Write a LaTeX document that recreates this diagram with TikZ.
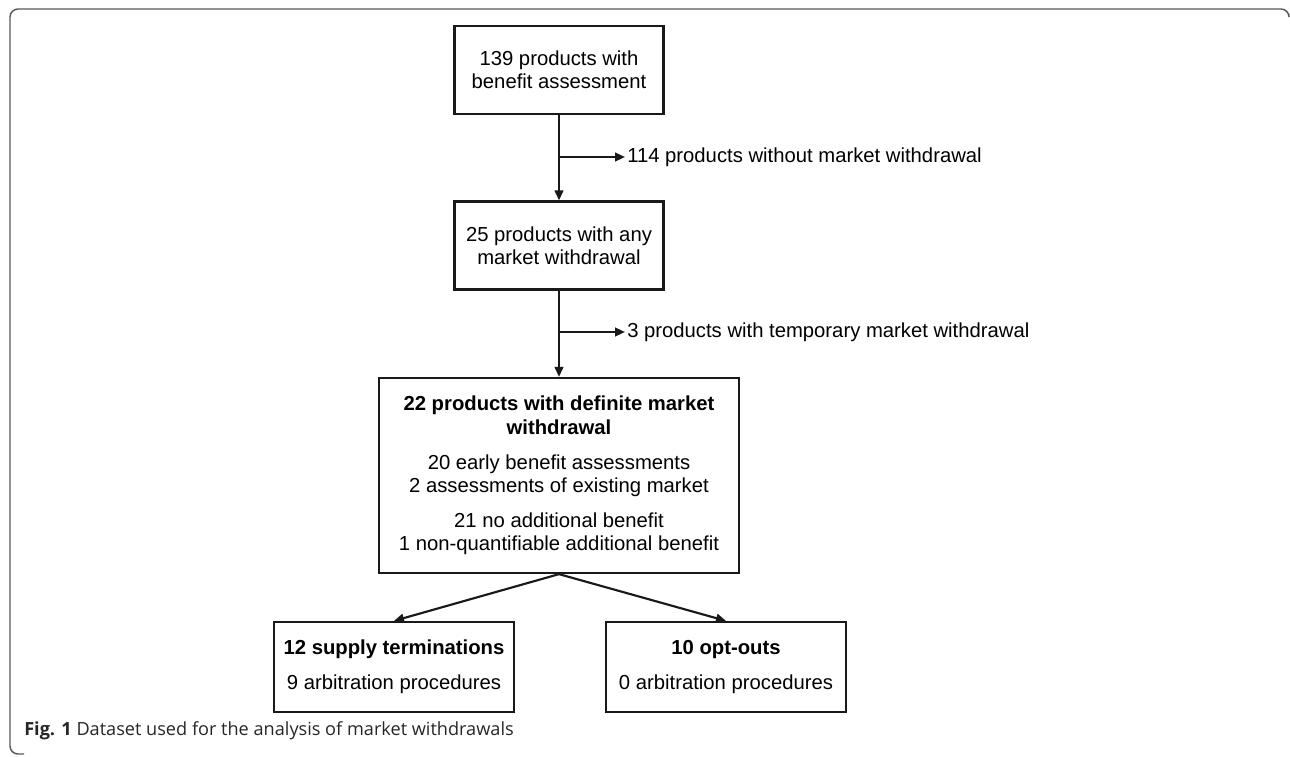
\documentclass[tikz,border=0pt]{standalone}
\usepackage{fontspec}
\setmainfont{Liberation Sans}
\newfontfamily\captionfont{Open Sans}
\usepackage{tikz}
\usetikzlibrary{arrows.meta,positioning}
\tikzset{
  flowbox/.style={rectangle,draw=black!90,line width=1.7pt,align=center,minimum width=156.75pt,minimum height=66pt,inner sep=2pt,font=\fontsize{15.2}{17.6}\selectfont},
  widebox/.style={flowbox,minimum width=270pt,minimum height=146.25pt},
  endbox/.style={flowbox,minimum width=180pt,minimum height=67.5pt},
  sidelabel/.style={anchor=west,inner sep=1.5pt,font=\fontsize{15.2}{17.6}\selectfont},
  arrow/.style={-{Triangle[length=7.5pt,width=6.5pt]},line width=1.6pt,draw=black!90},
  framecurve/.style={draw=black!65,line width=1.1pt,rounded corners=6pt}
}

\begin{document}
\begin{tikzpicture}[x=0.75pt,y=-0.75pt]
  \useasboundingbox (0,0) rectangle (1290,757);
  \draw[framecurve] (1289,14) |- (10,9) |- (24,754);

  \node[flowbox] (total) at (559,70) {139 products with\\benefit assessment};
  \node[flowbox] (anywd) at (559,245.5) {25 products with any\\market withdrawal};
  \node[widebox] (definite) at (559,475.5) {\textbf{22 products with definite market}\\\textbf{withdrawal}\\[8.5pt]20 early benefit assessments\\2 assessments of existing market\\[8.5pt]21 no additional benefit\\1 non-quantifiable additional benefit};
  \node[endbox] (supply) at (394,667) {\textbf{12 supply terminations}\\[9pt]9 arbitration procedures};
  \node[endbox] (optout) at (726,667) {\textbf{10 opt-outs}\\[9pt]0 arbitration procedures};

  \coordinate (split1) at (total.south |- 0,157);
  \coordinate (split2) at (anywd.south |- 0,332);
  \node[sidelabel] (kept) at (625,157) {114 products without market withdrawal};
  \node[sidelabel] (temporary) at (625,332) {3 products with temporary market withdrawal};

  \draw[arrow] (total) -- (anywd);
  \draw[arrow] (split1) -- (kept.west);
  \draw[arrow] (anywd) -- (definite);
  \draw[arrow] (split2) -- (temporary.west);
  \draw[arrow] (definite.south) -- (supply.north);
  \draw[arrow] (definite.south) -- (optout.north);

  \node[anchor=west,inner sep=0pt,text=black!85,font=\captionfont\fontsize{13.6}{16}\selectfont] (caption) at (24,731) {\textbf{Fig. 1} Dataset used for the analysis of market withdrawals};
\end{tikzpicture}
\end{document}
